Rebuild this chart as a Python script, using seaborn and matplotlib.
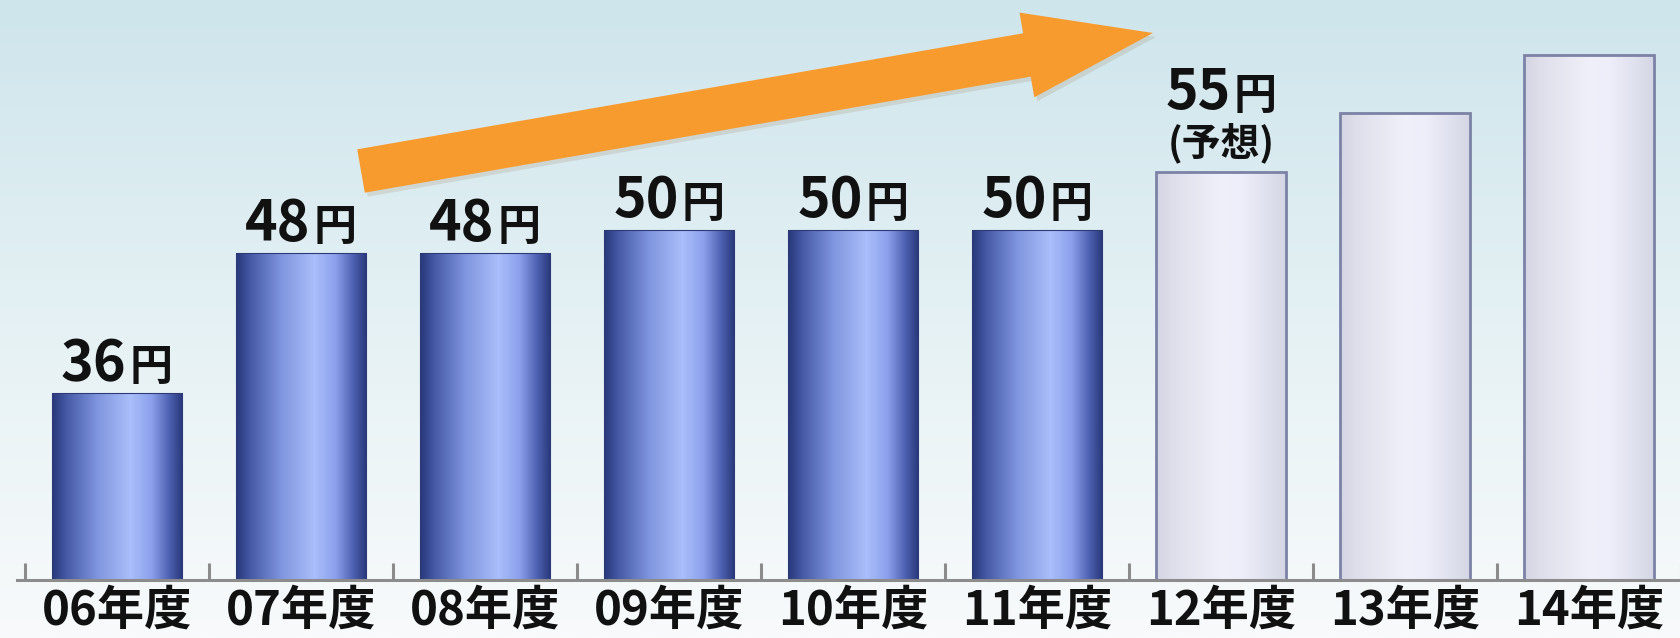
import numpy as np
import pandas as pd
import matplotlib
matplotlib.use("Agg")
import matplotlib.pyplot as plt
from matplotlib.patches import FancyArrow
from matplotlib.transforms import IdentityTransform
from matplotlib.colors import LinearSegmentedColormap
import seaborn as sns

# ---- data ----
years = ["06年度", "07年度", "08年度", "09年度", "10年度", "11年度", "12年度", "13年度", "14年度"]
values = [36, 48, 48, 50, 50, 50, 55, 60, 65]
value_labels = ["36", "48", "48", "50", "50", "50", "55", "", ""]
forecast = [False, False, False, False, False, False, True, True, True]
forecast_note = "(予想)"
unit = "円"

sns.set_theme(style="white")
plt.rcParams["font.family"] = ["Noto Sans CJK JP", "DejaVu Sans"]

W, H = 1681, 638
fig = plt.figure(figsize=(W / 100, H / 100), dpi=100)

# background gradient
bg = fig.add_axes([0, 0, 1, 1], zorder=-10)
top = np.array([206, 229, 236]) / 255
mid = np.array([231, 242, 245]) / 255
bot = np.array([248, 250, 251]) / 255
bg_cmap = LinearSegmentedColormap.from_list("bg", [(0, top), (0.55, mid), (1, bot)])
bg.imshow(np.linspace(0, 1, 256).reshape(-1, 1), cmap=bg_cmap, aspect="auto",
          extent=[0, 1, 0, 1], origin="upper")
bg.set_axis_off()

ax = fig.add_axes([17 / W, 58 / H, 1664 / W, 580 / H])
ax.patch.set_alpha(0)

df = pd.DataFrame({"year": years, "value": values})
sns.barplot(data=df, x="year", y="value", ax=ax, width=0.707, color="#5a6fc0",
            saturation=1, errorbar=None)

YMIN, YMAX = 20, 69.7

blue_cmap = LinearSegmentedColormap.from_list("blue", [
    (0.0, (40/255, 55/255, 122/255)),
    (0.12, (72/255, 92/255, 168/255)),
    (0.35, (128/255, 150/255, 222/255)),
    (0.60, (170/255, 190/255, 250/255)),
    (0.76, (140/255, 160/255, 236/255)),
    (0.90, (76/255, 96/255, 176/255)),
    (1.0, (40/255, 55/255, 122/255)),
])
light_cmap = LinearSegmentedColormap.from_list("light", [
    (0.0, (212/255, 213/255, 226/255)),
    (0.15, (224/255, 224/255, 236/255)),
    (0.50, (240/255, 240/255, 250/255)),
    (0.65, (238/255, 238/255, 250/255)),
    (0.85, (224/255, 225/255, 238/255)),
    (1.0, (212/255, 213/255, 228/255)),
])

grad = np.linspace(0, 1, 256).reshape(1, -1)
for patch, fc in zip(ax.patches, forecast):
    x0, w = patch.get_x(), patch.get_width()
    h = patch.get_height()
    cmap = light_cmap if fc else blue_cmap
    im = ax.imshow(grad, cmap=cmap, aspect="auto", extent=[x0, x0 + w, YMIN, h],
                   zorder=2, interpolation="bilinear")
    im.set_clip_path(patch)
    patch.set_facecolor("none")
    if fc:
        patch.set_edgecolor("#7c82a6")
        patch.set_linewidth(2.0)
    else:
        patch.set_edgecolor("#2c3a78")
        patch.set_linewidth(0.8)
    patch.set_zorder(3)

ax.set_xlim(-0.543, 8.5)
ax.set_ylim(YMIN, YMAX)

# value labels
for i, (v, lab) in enumerate(zip(values, value_labels)):
    if not lab:
        continue
    if forecast[i]:
        ax.annotate(forecast_note, xy=(i, v), xytext=(0, 12), textcoords="offset points",
                    ha="center", va="baseline", fontsize=28, fontweight="bold", color="#111111")
        dy = 45
    else:
        dy = 9.4
    ax.annotate(lab, xy=(i, v), xytext=(7, dy), textcoords="offset points",
                ha="right", va="baseline", fontsize=40, fontweight="bold", color="#111111")
    ax.annotate(unit, xy=(i, v), xytext=(9, dy), textcoords="offset points",
                ha="left", va="baseline", fontsize=31, fontweight="bold", color="#111111")

# axes styling
for s in ["top", "right", "left"]:
    ax.spines[s].set_visible(False)
ax.spines["bottom"].set_color("#8c8c8c")
ax.spines["bottom"].set_linewidth(2.2)
ax.spines["bottom"].set_zorder(4)
ax.set_yticks([])
ax.set_xlabel("")
ax.set_ylabel("")
ax.set_xticks(range(len(years)))
ax.set_xticklabels(years, fontsize=34, fontweight="bold", color="#111111")
ax.tick_params(axis="x", which="major", length=0, pad=5)
ax.set_xticks(np.arange(-0.5, len(years), 1.0), minor=True)
ax.tick_params(axis="x", which="minor", direction="in", length=12, width=2.2,
               color="#8c8c8c", bottom=True)

# decorative orange arrow (display pixels)
tail = (361, H - 171)
tip = (1153, H - 33)
shadow = FancyArrow(tail[0] + 3, tail[1] - 4, tip[0] - tail[0], tip[1] - tail[1],
                    width=44, head_width=86, head_length=128, length_includes_head=True,
                    transform=IdentityTransform(), color="#9a7a50", alpha=0.18, lw=0)
arrow = FancyArrow(tail[0], tail[1], tip[0] - tail[0], tip[1] - tail[1],
                   width=44, head_width=86, head_length=128, length_includes_head=True,
                   transform=IdentityTransform(), color="#f89b2f", lw=0)
fig.add_artist(shadow)
fig.add_artist(arrow)

fig.savefig("out.png", dpi=100)
